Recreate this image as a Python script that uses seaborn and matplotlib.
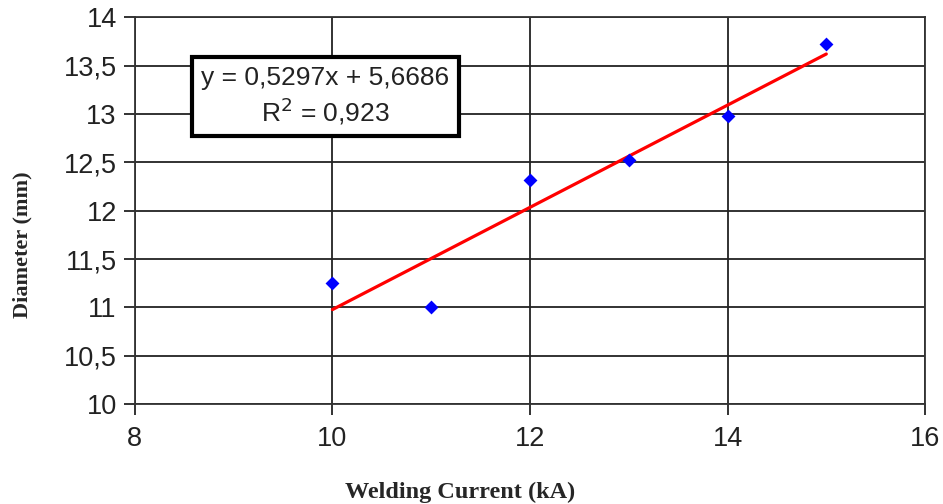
import matplotlib
matplotlib.use('Agg')
import matplotlib.pyplot as plt
import seaborn as sns
import pandas as pd

# welding current (kA) vs nugget diameter (mm)
current = [10, 11, 12, 13, 14, 15]
diameter = [11.25, 11.00, 12.32, 12.52, 12.98, 13.72]
x_ticks = [8, 10, 12, 14, 16]
y_ticks = [10, 10.5, 11, 11.5, 12, 12.5, 13, 13.5, 14]
y_tick_labels = ['10', '10,5', '11', '11,5', '12', '12,5', '13', '13,5', '14']

df = pd.DataFrame({'current': current, 'diameter': diameter})

sns.set_style('white')
plt.rcParams['font.family'] = ['Liberation Sans', 'DejaVu Sans']

fig = plt.figure(figsize=(9.43, 5.04), dpi=100)
ax = fig.add_axes([0.143, 0.198, 0.838, 0.768])

sns.regplot(data=df, x='current', y='diameter', ci=None, ax=ax,
            marker='D', scatter_kws=dict(color='blue', s=50, zorder=4, linewidths=0, alpha=1),
            line_kws=dict(color='red', lw=2.3, zorder=3))

ax.set_xlim(8, 16)
ax.set_ylim(10, 14)
ax.set_xticks(x_ticks)
ax.set_xticklabels([str(t) for t in x_ticks])
ax.set_yticks(y_ticks)
ax.set_yticklabels(y_tick_labels)
ax.tick_params(axis='both', labelsize=19.5, colors='#222222', length=8, width=1.3,
               direction='out', bottom=True, left=True)
ax.tick_params(axis='x', pad=8)
ax.tick_params(axis='y', pad=5)

ax.grid(True, color='#222222', lw=1.3)
ax.set_axisbelow(True)
for s in ax.spines.values():
    s.set_color('#333333')
    s.set_linewidth(1.3)

ax.set_xlabel('Welding Current (kA)', family='Liberation Serif', fontweight='bold',
              fontsize=17.5, va='center')
ax.xaxis.set_label_coords(0.411, -0.227)
ax.set_ylabel('Diameter (mm)', family='Liberation Serif', fontweight='bold',
              fontsize=16, va='center')
ax.yaxis.set_label_coords(-0.142, 0.411)

ax.text(9.93, 13.18, 'y = 0,5297x + 5,6686\nR$^2$ = 0,923', ha='center', va='center',
        fontsize=19, color='#222222', linespacing=1.2, zorder=5,
        bbox=dict(boxstyle='square,pad=0.35', facecolor='white', edgecolor='black', lw=3))

fig.savefig('out.png', dpi=100)
